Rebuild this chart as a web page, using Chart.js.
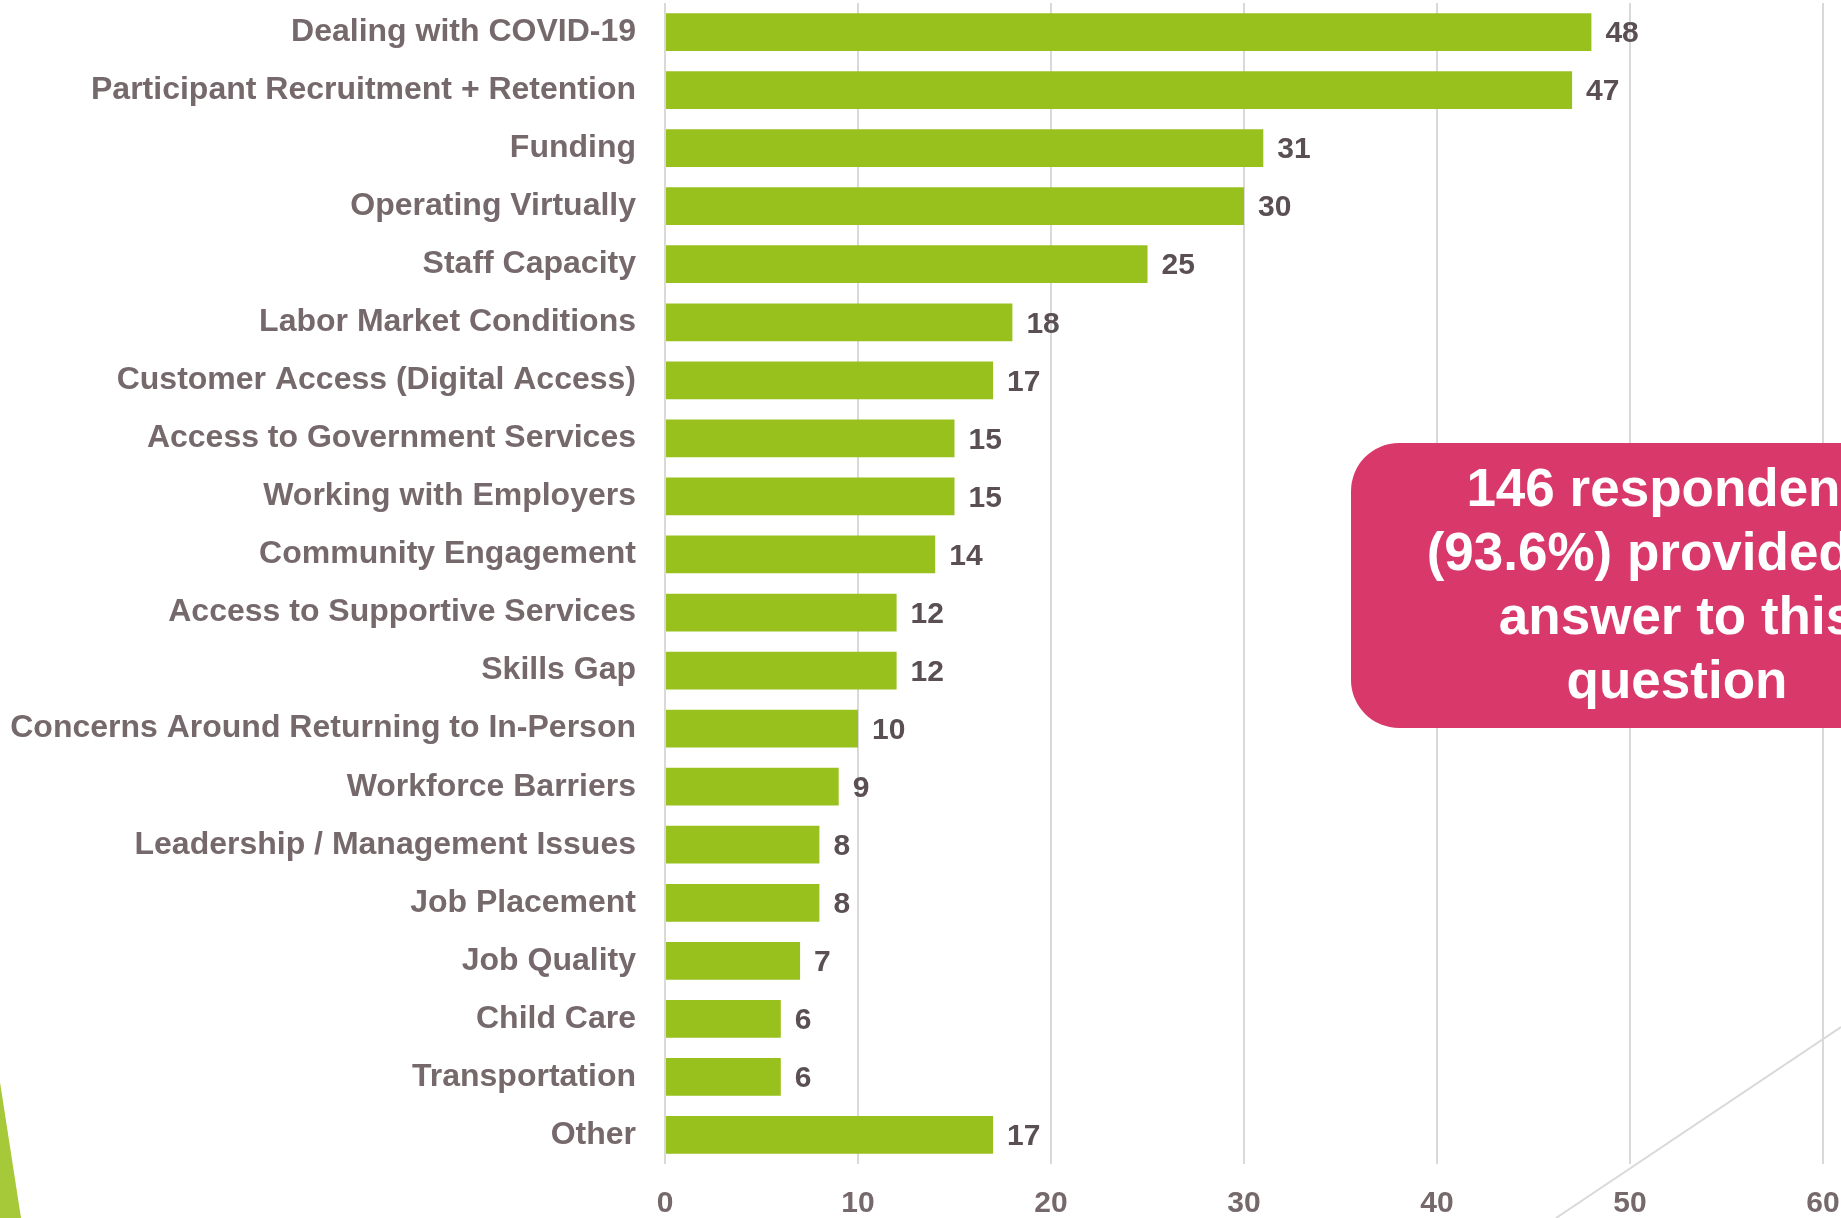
<!DOCTYPE html>
<html>
<head>
<meta charset="utf-8">
<script src="https://cdn.jsdelivr.net/npm/chart.js@4"></script>
<style>
  html, body { margin: 0; padding: 0; background: #fff; overflow: hidden; }
  canvas { display: block; }
</style>
</head>
<body>
<canvas id="chart" width="1841" height="1218"></canvas>
<script>
const categories = [
    'Dealing with COVID-19',
    'Participant Recruitment + Retention',
    'Funding',
    'Operating Virtually',
    'Staff Capacity',
    'Labor Market Conditions',
    'Customer Access (Digital Access)',
    'Access to Government Services',
    'Working with Employers',
    'Community Engagement',
    'Access to Supportive Services',
    'Skills Gap',
    'Concerns Around Returning to In-Person',
    'Workforce Barriers',
    'Leadership / Management Issues',
    'Job Placement',
    'Job Quality',
    'Child Care',
    'Transportation',
    'Other'
];
const counts = [48, 47, 31, 30, 25, 18, 17, 15, 15, 14, 12, 12, 10, 9, 8, 8, 7, 6, 6, 17];
const calloutLines = ['146 respondents', '(93.6%) provided an', 'answer to this', 'question'];

const labelColor = '#76696c';
const valueColor = '#5a4f52';
const barColor = '#98c11e';
const gridColor = '#d9d9d9';
const fontFamily = '"Liberation Sans", Arial, sans-serif';

// numbers at the end of each bar
const valueLabels = {
    id: 'valueLabels',
    afterDatasetsDraw(chart) {
        const ctx = chart.ctx;
        const meta = chart.getDatasetMeta(0);
        ctx.save();
        ctx.font = 'bold 30px ' + fontFamily;
        ctx.fillStyle = valueColor;
        ctx.textAlign = 'left';
        ctx.textBaseline = 'middle';
        meta.data.forEach((bar, i) => {
            ctx.fillText(counts[i], bar.x + 14, bar.y + 2);
        });
        ctx.restore();
    }
};

// slide decorations + pink callout box
const decor = {
    id: 'decor',
    afterDraw(chart) {
        const ctx = chart.ctx;
        ctx.save();
        // green sliver bottom left
        ctx.fillStyle = '#a6c93a';
        ctx.beginPath();
        ctx.moveTo(0, 1082);
        ctx.lineTo(21, 1218);
        ctx.lineTo(0, 1218);
        ctx.closePath();
        ctx.fill();
        // grey diagonal bottom right
        ctx.strokeStyle = gridColor;
        ctx.lineWidth = 2;
        ctx.beginPath();
        ctx.moveTo(1556, 1218);
        ctx.lineTo(1841, 1027);
        ctx.stroke();
        // callout
        ctx.fillStyle = '#d9386a';
        ctx.beginPath();
        ctx.roundRect(1351, 443, 700, 285, 48);
        ctx.fill();
        ctx.fillStyle = '#ffffff';
        ctx.font = 'bold 53px ' + fontFamily;
        ctx.textAlign = 'center';
        ctx.textBaseline = 'middle';
        calloutLines.forEach((line, i) => {
            ctx.fillText(line, 1677, 491 + i * 64);
        });
        ctx.restore();
    }
};

const chart = new Chart(document.getElementById('chart'), {
    type: 'bar',
    data: {
        labels: categories,
        datasets: [{
            data: counts,
            backgroundColor: barColor,
            borderWidth: 0,
            categoryPercentage: 1,
            barPercentage: 0.65
        }]
    },
    options: {
        indexAxis: 'y',
        responsive: false,
        animation: false,
        layout: { padding: { top: 3, right: 18, left: 0, bottom: 0 } },
        plugins: {
            legend: { display: false },
            tooltip: { enabled: false }
        },
        scales: {
            x: {
                min: 0,
                max: 60,
                ticks: {
                    stepSize: 10,
                    color: labelColor,
                    padding: 22,
                    font: { family: fontFamily, size: 30, weight: 'bold' }
                },
                grid: { color: gridColor, lineWidth: 2, drawTicks: false },
                border: { display: false },
                afterFit(scale) {
                    scale.height = 54;
                    scale.paddingLeft = 0;
                    scale.paddingRight = 0;
                }
            },
            y: {
                ticks: {
                    color: labelColor,
                    padding: 29,
                    font: { family: fontFamily, size: 32, weight: 'bold' }
                },
                grid: { display: false, drawTicks: false },
                border: { display: false },
                afterFit(scale) {
                    scale.width = 665;
                    scale.paddingTop = 0;
                    scale.paddingBottom = 0;
                }
            }
        }
    },
    plugins: [valueLabels, decor]
});
</script>
</body>
</html>
